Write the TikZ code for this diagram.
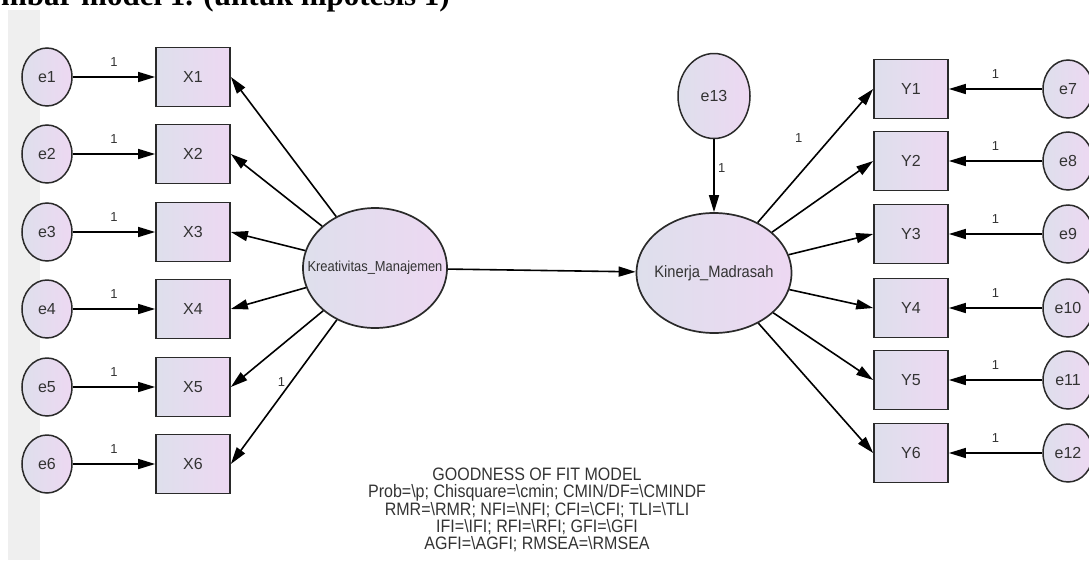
\documentclass[tikz,border=0pt]{standalone}
\usepackage{fontspec}
\setmainfont{Liberation Sans}
\newfontfamily\captionserif{Liberation Serif}
\newfontfamily\narrowsans{Liberation Sans}[FakeStretch=0.89]
\usetikzlibrary{shapes.geometric,arrows.meta}

\definecolor{fillL}{HTML}{DEDFEC}
\definecolor{fillR}{HTML}{EDD8F2}
\definecolor{edge}{HTML}{2A2A2A}
\definecolor{ink}{HTML}{333333}
\definecolor{strip}{HTML}{EFEFEF}

\tikzset{
  obs/.style={rectangle, draw=edge, line width=1.7pt, left color=fillL, right color=fillR,
    minimum width=74pt, minimum height=59pt, inner sep=0pt, text=ink, font=\fontsize{16}{16}\selectfont},
  errv/.style={ellipse, draw=edge, line width=1.5pt, left color=fillL, right color=fillR,
    minimum width=50pt, minimum height=58pt, inner sep=0pt, text=ink, font=\fontsize{16}{16}\selectfont},
  lat/.style={ellipse, draw=edge, line width=1.7pt, left color=fillL, right color=fillR, inner sep=0pt},
  one/.style={text=ink, font=\fontsize{13}{13}\selectfont},
}

\begin{document}
\begin{tikzpicture}[x=1pt, y=-1pt, >={Triangle[length=17pt,width=10pt]}, line width=1.6pt]
      \useasboundingbox (0,0) rectangle (1089,560);
      \clip (0,0) rectangle (1089,560);
      \fill [strip] (8,10) rectangle (40,560);
      \node (title) [anchor=base west, font=\captionserif\bfseries\fontsize{31}{31}\selectfont] at (-3,5) {mbar model 1. (untuk hipotesis 1)};

      \node (X1) [obs] at (193,77) {X1};
      \node (X2) [obs] at (193,154) {X2};
      \node (X3) [obs] at (193,232) {X3};
      \node (X4) [obs] at (193,309) {X4};
      \node (X5) [obs] at (193,387) {X5};
      \node (X6) [obs] at (193,464) {X6};
      \node (e1) [errv] at (47,77) {e1};
      \node (e2) [errv] at (47,154) {e2};
      \node (e3) [errv] at (47,232) {e3};
      \node (e4) [errv] at (47,309) {e4};
      \node (e5) [errv] at (47,387) {e5};
      \node (e6) [errv] at (47,464) {e6};

      \node (Y1) [obs] at (911,89) {Y1};
      \node (Y2) [obs] at (911,161) {Y2};
      \node (Y3) [obs] at (911,234) {Y3};
      \node (Y4) [obs] at (911,308) {Y4};
      \node (Y5) [obs] at (911,380) {Y5};
      \node (Y6) [obs] at (911,453) {Y6};
      \node (e7) [errv] at (1068,89) {e7};
      \node (e8) [errv] at (1068,161) {e8};
      \node (e9) [errv] at (1068,234) {e9};
      \node (e10) [errv] at (1068,308) {e10};
      \node (e11) [errv] at (1068,380) {e11};
      \node (e12) [errv] at (1068,453) {e12};

      \node (kreatif) [lat, minimum width=144pt, minimum height=120pt,
        label={[text=ink, font=\narrowsans\fontsize{14.5}{14.5}\selectfont]center:Kreativitas\_Manajemen}] at (375,268) {};
      \node (kinerja) [lat, minimum width=155pt, minimum height=120pt,
        label={[text=ink, font=\narrowsans\fontsize{16.5}{16.5}\selectfont]center:Kinerja\_Madrasah}] at (714,273) {};
      \node (e13) [errv, minimum width=72pt, minimum height=85pt] at (714,96) {e13};

      \node (gof) [align=center, text=ink, font=\narrowsans\fontsize{18}{17.25}\selectfont] at (537,510)
        {GOODNESS OF FIT MODEL\\
         Prob=\textbackslash p; Chisquare=\textbackslash cmin; CMIN/DF=\textbackslash CMINDF\\
         RMR=\textbackslash RMR; NFI=\textbackslash NFI; CFI=\textbackslash CFI; TLI=\textbackslash TLI\\
         IFI=\textbackslash IFI; RFI=\textbackslash RFI; GFI=\textbackslash GFI\\
         AGFI=\textbackslash AGFI; RMSEA=\textbackslash RMSEA};

      \draw [->] (e1) -- node [above=6pt, one] {1} (X1);
      \draw [->] (e2) -- node [above=6pt, one] {1} (X2);
      \draw [->] (e3) -- node [above=6pt, one] {1} (X3);
      \draw [->] (e4) -- node [above=6pt, one] {1} (X4);
      \draw [->] (e5) -- node [above=6pt, one] {1} (X5);
      \draw [->] (e6) -- node [above=6pt, one] {1} (X6);
      \draw [->] (kreatif) -- (X1.east);
      \draw [->] (kreatif) -- (X2.east);
      \draw [->] (kreatif) -- (X3.east);
      \draw [->] (kreatif) -- (X4.east);
      \draw [->] (kreatif) -- (X5.east);
      \draw [->] (kreatif) -- node [pos=0.43, left=2pt, one] {1} (X6.east);
      \draw [->] (kreatif) -- (kinerja);
      \draw [->] (e13) -- node [pos=0.4, right, one] {1} (kinerja);
      \draw [->] (kinerja) -- node [pos=0.63, left=24pt, one] {1} (Y1.west);
      \draw [->] (kinerja) -- (Y2.west);
      \draw [->] (kinerja) -- (Y3.west);
      \draw [->] (kinerja) -- (Y4.west);
      \draw [->] (kinerja) -- (Y5.west);
      \draw [->] (kinerja) -- (Y6.west);
      \draw [->] (e7) -- node [above=6pt, one] {1} (Y1);
      \draw [->] (e8) -- node [above=6pt, one] {1} (Y2);
      \draw [->] (e9) -- node [above=6pt, one] {1} (Y3);
      \draw [->] (e10) -- node [above=6pt, one] {1} (Y4);
      \draw [->] (e11) -- node [above=6pt, one] {1} (Y5);
      \draw [->] (e12) -- node [above=6pt, one] {1} (Y6);
  \end{tikzpicture}
\end{document}
